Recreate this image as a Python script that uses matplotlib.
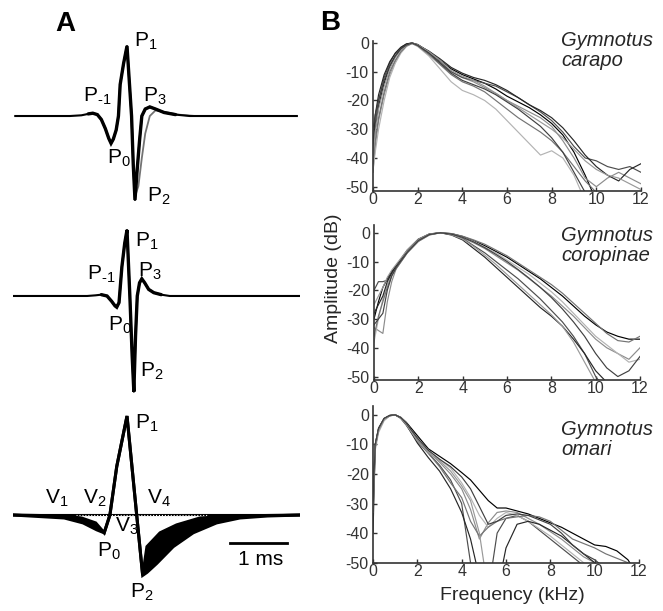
import numpy as np
import matplotlib
matplotlib.use('Agg')
import matplotlib.pyplot as plt

plt.rcParams['font.family'] = 'Liberation Sans'
plt.rcParams['mathtext.default'] = 'regular'
plt.rcParams['axes.unicode_minus'] = False

W, H = 663, 611

## panel A waveforms, time in ms (P1 at 0), amplitude relative to P1
t_carapo = [-1.96, -1.0, -0.8, -0.68, -0.6, -0.52, -0.45, -0.38, -0.32, -0.28, -0.24, -0.19,
            -0.15, -0.12, -0.06, 0.0, 0.04, 0.08, 0.11, 0.14, 0.18, 0.22, 0.26, 0.32, 0.4, 0.5,
            0.65, 0.85, 1.1, 2.98]
v_carapo = [0, 0, 0.01, 0.03, 0.04, 0.02, -0.05, -0.18, -0.32, -0.39, -0.33, -0.2,
            0.0, 0.45, 0.75, 1.0, 0.5, 0.0, -0.7, -1.2, -0.75, -0.35, 0.0, 0.1, 0.13, 0.1,
            0.05, 0.02, 0, 0]
t_carapo_b = [0.11, 0.14, 0.2, 0.26, 0.32, 0.4, 0.5, 0.65, 0.9, 1.2]
v_carapo_b = [-0.7, -1.15, -1.0, -0.6, -0.25, 0.0, 0.08, 0.06, 0.02, 0]

t_coropinae = [-2.0, -0.7, -0.55, -0.45, -0.35, -0.27, -0.21, -0.18, -0.14, -0.09, -0.04, 0.0,
               0.05, 0.09, 0.12, 0.15, 0.18, 0.22, 0.26, 0.31, 0.38, 0.47, 0.6, 0.75, 3.03]
v_coropinae = [0, 0, 0.01, 0.02, 0.0, -0.08, -0.15, -0.17, -0.1, 0.44, 0.8, 1.0,
               0.0, -0.9, -1.45, -0.6, 0.0, 0.2, 0.26, 0.2, 0.1, 0.05, 0.02, 0, 0]

t_omari_up = [-2.0, -1.1, -0.8, -0.55, -0.4, -0.3, -0.18, 0.0, 0.17, 0.275, 0.35, 0.58, 0.87,
              1.28, 1.86, 3.05]
v_omari_up = [0, -0.01, -0.03, -0.08, -0.18, 0.0, 0.49, 1.0, 0.0, -0.61, -0.32, -0.18, -0.1,
              -0.03, -0.01, 0]
t_omari_lo = [-2.0, -1.1, -0.77, -0.53, -0.4, -0.3, -0.18, 0.0, 0.17, 0.275, 0.35, 0.52, 0.81,
              1.16, 1.57, 1.98, 2.46, 3.05]
v_omari_lo = [0, -0.03, -0.08, -0.15, -0.18, 0.0, 0.49, 1.0, 0.0, -0.61, -0.58, -0.49, -0.32,
              -0.18, -0.08, -0.03, -0.01, 0]

## panel B spectra (dB), one list per EOD
F_carapo = [0, 0.1, 0.25, 0.5, 0.75, 1, 1.25, 1.5, 1.75, 2, 2.5, 3, 3.5, 4, 4.5, 5, 5.5, 6,
            6.5, 7, 7.5, 8, 8.5, 9, 9.5, 10, 10.5, 11, 11.5, 12]
carapo_1 = [-40, -30, -22, -14, -8, -4.5, -2, -0.6, 0, -0.5, -3, -6, -9, -11, -12.5, -14, -16, -18.5, -20.5, -22.5, -25, -28, -32, -38, -46, -55, -60, -60, -60, -60]
carapo_2 = [-45, -36, -27, -18, -11, -6.5, -3, -1, 0, -0.8, -3.5, -7, -10, -12, -13.5, -15.5, -17.5, -20, -22, -24, -26, -29, -34, -40, -47, -50, -47, -45, -47, -49]
carapo_3 = [-38, -28, -20, -12, -7, -3.5, -1.5, -0.3, 0, -1, -3.5, -6.5, -10, -12, -13, -14, -15, -17, -19, -21.5, -24, -27, -31, -36, -40, -41, -43, -44, -43, -45]
carapo_4 = [-44, -38, -30, -20, -12, -7, -3.5, -1.2, -0.2, -1.2, -4.5, -9, -13.5, -16.5, -18, -20, -23, -27, -31, -35, -39, -37.5, -40, -46, -55, -60, -60, -60, -60, -60]
carapo_5 = [-35, -25, -18, -11, -6.5, -3.5, -1.5, -0.3, 0, -0.7, -2.8, -5.5, -8.5, -10.5, -12, -13, -14.5, -16.5, -19, -21.5, -23.5, -26, -29.5, -34, -39, -43, -46, -48, -44, -42]
carapo_6 = [-42, -34, -26, -17, -10, -6, -3, -1, -0.2, -1, -4, -7.5, -11, -13.5, -15, -17, -20, -23, -26, -28.5, -31, -34, -38, -43, -48, -52, -60, -60, -60, -60]
carapo_7 = [-40, -31, -23, -15, -9, -5, -2.5, -0.8, 0, -0.6, -3, -6, -9.5, -11.5, -13, -15, -17.5, -20, -22.5, -25, -27.5, -30, -33, -37, -41, -44, -46, -47, -49, -51]
carapo_8 = [-30, -25, -20, -13, -8, -4.5, -2, -0.7, 0, -0.8, -3.5, -7, -10.5, -13, -14.5, -16, -18, -20.5, -23, -26, -29, -33, -38, -45, -52, -60, -60, -60, -60, -60]

F_coropinae = [0, 0.2, 0.4, 0.6, 0.8, 1, 1.5, 2, 2.5, 3, 3.5, 4, 4.5, 5, 5.5, 6, 6.5, 7, 7.5,
               8, 8.5, 9, 9.5, 10, 10.5, 11, 11.5, 12]
cor_1 = [-30, -24, -19, -16, -13.5, -11.5, -6.5, -2.5, -0.5, 0, -0.3, -1.3, -2.8, -4.5, -6.5, -8.5, -11, -13.5, -16, -19, -22, -25.5, -29, -32, -34.5, -36, -37, -37]
cor_2 = [-33, -34, -35, -24, -17, -12.5, -7, -3, -0.8, 0, -0.5, -1.8, -3.5, -5.5, -8, -10.5, -13, -16, -19, -22, -25.5, -29, -33, -37, -40, -42, -44, -40]
cor_3 = [-20, -17, -17, -16.5, -14, -12, -6.5, -2.5, -0.5, 0, -0.6, -2, -4.5, -7, -10, -13, -16, -19.5, -23, -27, -31, -36, -42, -50, -55, -60, -60, -60]
cor_4 = [-38, -30, -23, -18, -14.5, -12, -6.8, -2.8, -0.6, 0, -0.4, -1.5, -3, -5, -7, -9.5, -12, -14.5, -17.5, -20.5, -24, -28, -32, -36, -39, -42, -45, -44]
cor_5 = [-28, -25, -22, -17, -14, -11.5, -6, -2.2, -0.4, 0, -0.8, -2.5, -5.5, -8.5, -12, -15.5, -19, -22.5, -26, -29, -32.5, -37, -42, -48, -52, -60, -60, -60]
cor_6 = [-36, -29, -24, -19, -15, -12.5, -7, -3, -0.7, 0, -0.3, -1.2, -2.5, -4, -6, -8, -10.5, -13, -15.5, -18, -21, -24.5, -28, -31.5, -35, -37.5, -38, -36]
cor_7 = [-25, -22, -19, -15.5, -13, -11, -6, -2.3, -0.4, 0, -0.7, -2.2, -4.8, -7.8, -11, -14.5, -18, -21.5, -25, -28.5, -32.5, -38, -45, -52, -60, -60, -60, -60]
cor_8 = [-32, -30, -28, -20, -15, -12, -6.8, -2.7, -0.6, 0, -0.5, -1.6, -3.2, -5.2, -7.5, -10, -12.8, -15.8, -19, -22.5, -26.5, -31, -36, -42, -47, -50, -48, -43]

F_omari = [0, 0.1, 0.25, 0.5, 0.75, 1, 1.25, 1.5, 2, 2.5, 3, 3.5, 4, 4.4, 4.8, 5.2, 5.6, 6,
           6.5, 7, 7.5, 8, 8.5, 9, 9.5, 10, 10.5, 11, 11.5, 12]
om_1 = [-30, -10, -4.5, -1.2, -0.2, 0, -0.8, -2.5, -7, -11.5, -14, -16.5, -19.5, -22, -25.5, -29, -31.5, -31.5, -32.5, -33.5, -35, -36.5, -38, -40, -42, -44, -44.5, -46, -49, -55]
om_2 = [-35, -11, -5, -1.5, -0.3, 0, -1, -3, -8, -12.5, -16, -20, -25, -32, -42, -36.5, -33, -32.5, -33, -35, -37, -39.5, -42, -45, -48, -50, -55, -60, -60, -60]
om_3 = [-28, -10, -5, -1.5, -0.2, 0, -1.2, -3.5, -9, -13, -17, -22, -30, -50, -60, -60, -40, -35, -34, -36, -39, -42, -45, -48, -51, -60, -60, -60, -60, -60]
om_4 = [-32, -12, -6, -2, -0.4, 0, -0.8, -2.8, -8, -12, -15, -18, -23, -28, -34, -38, -35, -33, -34, -36, -38.5, -41, -44, -47, -50, -55, -60, -60, -60, -60]
om_5 = [-40, -11, -5, -1.4, -0.3, 0, -1, -3.2, -9.5, -14.5, -19, -25, -33, -42, -55, -60, -60, -45, -37, -36, -37, -39, -41, -44, -47, -50, -55, -60, -60, -60]
om_6 = [-30, -10, -4.8, -1.3, -0.2, 0, -0.9, -3, -8.5, -13, -17.5, -23, -28, -36, -41, -38, -36, -35, -34.5, -34, -34.5, -36, -39, -42, -43.5, -45, -47, -48.5, -50, -55]
om_7 = [-33, -11, -5.5, -1.6, -0.3, 0, -1.1, -3.3, -8.8, -12.8, -15.5, -19, -24, -29, -40, -60, -60, -60, -60, -60, -60, -60, -60, -60, -60, -60, -60, -60, -60, -60]
om_8 = [-29, -10, -4.6, -1.2, -0.2, 0, -0.9, -2.8, -7.8, -12, -15, -17.5, -21, -25, -31, -37, -36, -34, -33.5, -34, -35.5, -37, -40, -44, -47, -49, -52, -60, -60, -60]

yticks = [0, -10, -20, -30, -40, -50]
xticks = [0, 2, 4, 6, 8, 10, 12]
shades = ['black', '0.55', '0.3', '0.7', '0.15', '0.45', '0.6', '0.25']


def box(x0, y0, x1, y1):
    # pixel box -> figure fraction
    return [x0 / W, 1 - y1 / H, (x1 - x0) / W, (y1 - y0) / H]


def px(x, y):
    return x / W, 1 - y / H


def trace(ax, t, v, lo, hi, **kw):
    # thin baseline for the whole sweep, heavier line over the pulse itself
    ax.plot(t, v, color='black', lw=1.5, **kw)
    ax.plot(t[lo:hi], v[lo:hi], color='black', lw=2.4, solid_joinstyle='miter',
            solid_capstyle='round', **kw)


fig = plt.figure(figsize=(W / 100, H / 100), dpi=100)

## ---- panel A ----
axA1 = fig.add_axes(box(13, 25, 300, 215))
axA1.plot(t_carapo_b, v_carapo_b, color='0.45', lw=1.3)
trace(axA1, t_carapo, v_carapo, 3, 28)
axA1.set_ylim(-1.414, 1.3)

axA2 = fig.add_axes(box(13, 215, 300, 400))
trace(axA2, t_coropinae, v_coropinae, 3, 23)
axA2.set_ylim(-1.576, 1.227)

axA3 = fig.add_axes(box(13, 400, 300, 611))
axA3.plot([-2.0, 3.05], [0, 0], color='black', lw=1.5, zorder=1)
axA3.plot([-0.9, 1.4], [0, 0], color='white', lw=0.8, ls=':', zorder=2)
axA3.fill(np.r_[t_omari_up, t_omari_lo[::-1]], np.r_[v_omari_up, v_omari_lo[::-1]],
          color='black', lw=0, zorder=3)
axA3.plot(t_omari_up, v_omari_up, color='black', lw=2.2, zorder=4, solid_joinstyle='miter')
axA3.plot(t_omari_lo, v_omari_lo, color='black', lw=2.2, zorder=4, solid_joinstyle='miter')
axA3.plot([1.81, 2.81], [-0.283, -0.283], color='black', lw=2)
axA3.set_ylim(-0.97, 1.162)

for ax in (axA1, axA2, axA3):
    ax.set_xlim(-2.0, 3.035)
    ax.axis('off')

lab = dict(fontsize=15, ha='left', va='baseline')
# top
fig.text(*px(134, 47), 'P$_1$', **lab)
fig.text(*px(83, 102), 'P$_{\u2010}$$_1$', **lab)
fig.text(*px(143, 102), 'P$_3$', **lab)
fig.text(*px(107, 164), 'P$_0$', **lab)
fig.text(*px(147, 202), 'P$_2$', **lab)
# middle
fig.text(*px(135, 247), 'P$_1$', **lab)
fig.text(*px(87, 280), 'P$_{\u2010}$$_1$', **lab)
fig.text(*px(138, 277), 'P$_3$', **lab)
fig.text(*px(108, 331), 'P$_0$', **lab)
fig.text(*px(140, 377), 'P$_2$', **lab)
# bottom
fig.text(*px(135, 429), 'P$_1$', **lab)
fig.text(*px(45, 504), 'V$_1$', **lab)
fig.text(*px(83, 504), 'V$_2$', **lab)
fig.text(*px(147, 504), 'V$_4$', **lab)
fig.text(*px(115, 532), 'V$_3$', **lab)
fig.text(*px(97, 557), 'P$_0$', **lab)
fig.text(*px(130, 598), 'P$_2$', **lab)
fig.text(*px(238, 565), '1 ms', **lab)

fig.text(*px(65, 24), 'A', fontsize=20, fontweight='bold', ha='center', va='center')
fig.text(*px(330, 23), 'B', fontsize=20, fontweight='bold', ha='center', va='center')

## ---- panel B ----
axB1 = fig.add_axes(box(373, 41, 641, 191))
axB1.set_ylim(-51.5, 0.7)
for i, c in enumerate([carapo_1, carapo_2, carapo_3, carapo_4, carapo_5, carapo_6, carapo_7, carapo_8]):
    axB1.plot(F_carapo, c, color=shades[i], lw=0.85)

axB2 = fig.add_axes(box(374, 225, 640, 380))
axB2.set_ylim(-51.2, 2.7)
for i, c in enumerate([cor_1, cor_2, cor_3, cor_4, cor_5, cor_6, cor_7, cor_8]):
    axB2.plot(F_coropinae, c, color=shades[i], lw=0.85)

axB3 = fig.add_axes(box(373, 406, 639, 563))
axB3.set_ylim(-50.1, 3)
for i, c in enumerate([om_1, om_2, om_3, om_4, om_5, om_6, om_7, om_8]):
    axB3.plot(F_omari, c, color=shades[i], lw=0.85)

for ax in (axB1, axB2, axB3):
    ax.set_xlim(0, 12)
    ax.set_xticks(xticks)
    ax.set_yticks(yticks)
    ax.set_yticklabels([str(v) for v in yticks])
    ax.spines['top'].set_visible(False)
    ax.spines['right'].set_visible(False)
    for s in ('left', 'bottom'):
        ax.spines[s].set_linewidth(1.2)
        ax.spines[s].set_color('0.2')
    ax.tick_params(direction='in', length=3, width=1, labelsize=11.5, colors='0.2')
    ax.tick_params(axis='x', pad=1)
    ax.tick_params(axis='y', pad=3)
    ax.patch.set_alpha(0)

it = dict(fontsize=14.5, style='italic', ha='left', va='top', linespacing=1.05, color='0.15')
fig.text(*px(561, 31), 'Gymnotus\ncarapo', **it)
fig.text(*px(561, 226), 'Gymnotus\ncoropinae', **it)
fig.text(*px(561, 420), 'Gymnotus\nomari', **it)

fig.text(*px(333, 278), 'Amplitude (dB)', fontsize=14, rotation=90, ha='center', va='center',
         color='0.15')
fig.text(*px(512, 595), 'Frequency (kHz)', fontsize=14, ha='center', va='center', color='0.15')

fig.savefig('out.png', dpi=100)
